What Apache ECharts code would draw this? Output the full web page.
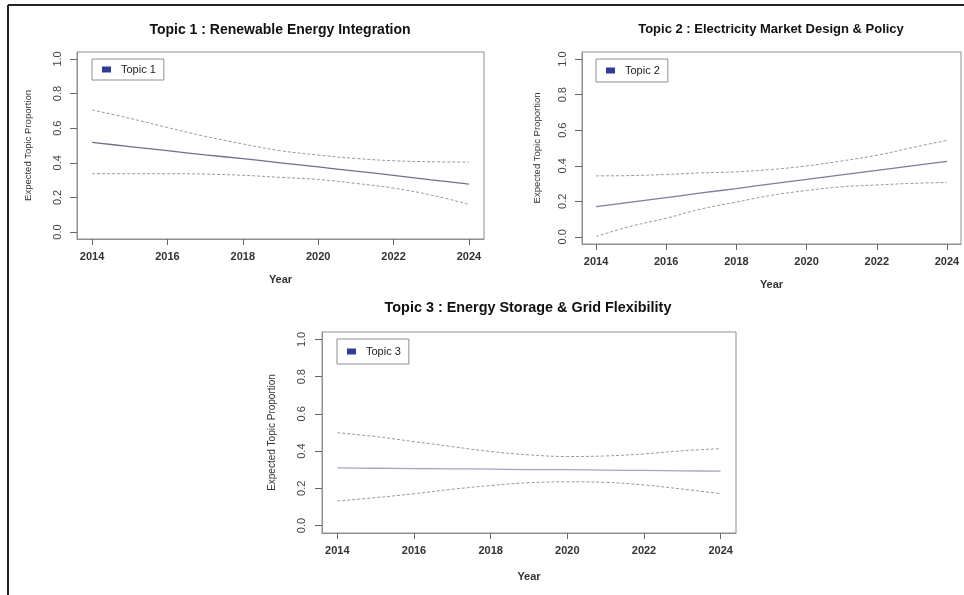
<!DOCTYPE html>
<html>
<head>
<meta charset="utf-8">
<script src="https://cdn.jsdelivr.net/npm/echarts@6/dist/echarts.min.js"></script>
<style>
  html, body { margin: 0; padding: 0; background: #fff; }
  #chart { width: 964px; height: 595px; }
</style>
</head>
<body>
<div id="chart"></div>
<script>
// Years and tick values
const years = [2014, 2015, 2016, 2017, 2018, 2019, 2020, 2021, 2022, 2023, 2024];
const xTicks = [2014, 2016, 2018, 2020, 2022, 2024];
const yTicks = [0, 0.2, 0.4, 0.6, 0.8, 1.0];

// Panel titles and legend labels
const panelTitles = [
  'Topic 1 : Renewable Energy Integration',
  'Topic 2 : Electricity Market Design & Policy',
  'Topic 3 : Energy Storage & Grid Flexibility'
];
const topicNames = ['Topic 1', 'Topic 2', 'Topic 3'];

// Expected topic proportion with upper / lower confidence bounds
const topic1Mean  = [0.518, 0.494, 0.470, 0.446, 0.424, 0.400, 0.376, 0.352, 0.328, 0.302, 0.277];
const topic1Upper = [0.705, 0.657, 0.604, 0.553, 0.509, 0.470, 0.445, 0.425, 0.412, 0.406, 0.404];
const topic1Lower = [0.337, 0.337, 0.337, 0.335, 0.328, 0.316, 0.304, 0.281, 0.254, 0.214, 0.160];

const topic2Mean  = [0.170, 0.196, 0.221, 0.247, 0.272, 0.298, 0.323, 0.349, 0.374, 0.400, 0.425];
const topic2Upper = [0.343, 0.345, 0.351, 0.360, 0.366, 0.379, 0.399, 0.427, 0.459, 0.502, 0.543];
const topic2Lower = [0.002, 0.060, 0.105, 0.157, 0.196, 0.234, 0.261, 0.282, 0.292, 0.301, 0.306];

const topic3Mean  = [0.310, 0.308, 0.306, 0.305, 0.303, 0.301, 0.300, 0.298, 0.296, 0.294, 0.292];
const topic3Upper = [0.499, 0.478, 0.451, 0.424, 0.398, 0.380, 0.371, 0.374, 0.385, 0.402, 0.413];
const topic3Lower = [0.132, 0.150, 0.171, 0.195, 0.215, 0.230, 0.235, 0.232, 0.218, 0.196, 0.171];

const meanSeries  = [topic1Mean, topic2Mean, topic3Mean];
const upperSeries = [topic1Upper, topic2Upper, topic3Upper];
const lowerSeries = [topic1Lower, topic2Lower, topic3Lower];

// Panel layout (plot box in pixels) and per-panel styling
const panels = [
  { box: [77, 52, 407, 187],  titleX: 280, titleY: 30,  titleSize: 14, labelGap: 12, xNameGap: 35, yNameGap: 44,
    yLabelMargin: 14, yNameSize: 9.5, legend: [92, 59, 72, 22], meanColor: '#707088' },
  { box: [582, 52, 379, 192], titleX: 771, titleY: 29,  titleSize: 13, labelGap: 12, xNameGap: 35, yNameGap: 40,
    yLabelMargin: 14, yNameSize: 9.5, legend: [596, 59, 67, 23], meanColor: '#7c7c9c' },
  { box: [322, 332, 414, 201], titleX: 528, titleY: 308, titleSize: 14.4, labelGap: 12, xNameGap: 38, yNameGap: 45,
    yLabelMargin: 15, yNameSize: 10, legend: [337, 339, 74, 25], meanColor: '#a4a6c0' }
];

const FONT = '"Liberation Sans", Arial, Helvetica, sans-serif';
const ciColor = '#9a9a9a';
const boxColor = '#8f8f8f';

const toPoints = arr => years.map((y, i) => [y, arr[i]]);

const grid = [], xAxis = [], yAxis = [], series = [], legend = [], graphic = [];

panels.forEach((p, k) => {
  const [left, top, width, height] = p.box;
  grid.push({ left, top, width, height, show: true, borderColor: boxColor, borderWidth: 1, containLabel: false });

  xAxis.push({
    type: 'value', gridIndex: k, min: 2013.6, max: 2024.4,
    name: 'Year', nameLocation: 'middle', nameGap: p.xNameGap,
    nameTextStyle: { fontFamily: FONT, fontSize: 11, fontWeight: 'bold', color: '#333' },
    axisLine: { show: true, onZero: false, lineStyle: { color: boxColor, width: 1 } },
    axisTick: { show: true, customValues: xTicks, length: 6, inside: false, lineStyle: { color: '#666' } },
    axisLabel: { customValues: xTicks, margin: p.labelGap, fontFamily: FONT, fontSize: 11, fontWeight: 'bold', color: '#333',
      formatter: v => String(v) },
    splitLine: { show: false }
  });

  yAxis.push({
    type: 'value', gridIndex: k, min: -0.04, max: 1.04,
    name: 'Expected Topic Proportion', nameLocation: 'middle', nameGap: p.yNameGap,
    nameTextStyle: { fontFamily: FONT, fontSize: p.yNameSize, color: '#333' },
    axisLine: { show: true, onZero: false, lineStyle: { color: boxColor, width: 1 } },
    axisTick: { show: true, customValues: yTicks, length: 7, inside: false, lineStyle: { color: '#666' } },
    axisLabel: { customValues: yTicks, rotate: 90, margin: p.yLabelMargin, fontFamily: FONT, fontSize: 11, color: '#444',
      formatter: v => Number(v).toFixed(1) },
    splitLine: { show: false }
  });

  const dashed = { color: ciColor, width: 1, type: [3, 2] };
  series.push({
    name: topicNames[k], type: 'line', xAxisIndex: k, yAxisIndex: k,
    data: toPoints(meanSeries[k]), showSymbol: false, smooth: 0.3, silent: true,
    itemStyle: { color: '#2e3c96' },
    lineStyle: { color: p.meanColor, width: 1.3 }
  });
  series.push({
    name: topicNames[k] + ' upper', type: 'line', xAxisIndex: k, yAxisIndex: k,
    data: toPoints(upperSeries[k]), showSymbol: false, smooth: 0.4, silent: true,
    lineStyle: dashed
  });
  series.push({
    name: topicNames[k] + ' lower', type: 'line', xAxisIndex: k, yAxisIndex: k,
    data: toPoints(lowerSeries[k]), showSymbol: false, smooth: 0.4, silent: true,
    lineStyle: dashed
  });

  const [lx, ly, lw, lh] = p.legend;
  legend.push({
    left: lx, top: ly, width: lw, height: lh,
    data: [{ name: topicNames[k], icon: 'rect', itemStyle: { color: '#2e3c96', borderWidth: 0 } }],
    selectedMode: false,
    itemWidth: 9, itemHeight: 6,
    padding: [Math.round((lh - 12) / 2), 8, Math.round((lh - 12) / 2), 10],
    borderColor: boxColor, borderWidth: 1, borderRadius: 0,
    textStyle: { fontFamily: FONT, fontSize: 11, color: '#222', padding: [0, 0, 0, 5] }
  });

  // Panel title, centred over the plot
  graphic.push({
    type: 'text', x: p.titleX, y: p.titleY, silent: true,
    style: { text: panelTitles[k], align: 'center', verticalAlign: 'middle',
      font: 'bold ' + p.titleSize + 'px ' + FONT, fill: '#111' }
  });
});

// Outer frame: top and left edges
graphic.push({ type: 'line', silent: true, shape: { x1: 8, y1: 5, x2: 964, y2: 5 }, style: { stroke: '#222', lineWidth: 2 } });
graphic.push({ type: 'line', silent: true, shape: { x1: 8, y1: 5, x2: 8, y2: 595 }, style: { stroke: '#222', lineWidth: 2 } });

const chart = echarts.init(document.getElementById('chart'), null, { renderer: 'canvas' });
chart.setOption({
  animation: false,
  backgroundColor: '#ffffff',
  grid, xAxis, yAxis, series, legend, graphic
});
</script>
</body>
</html>
